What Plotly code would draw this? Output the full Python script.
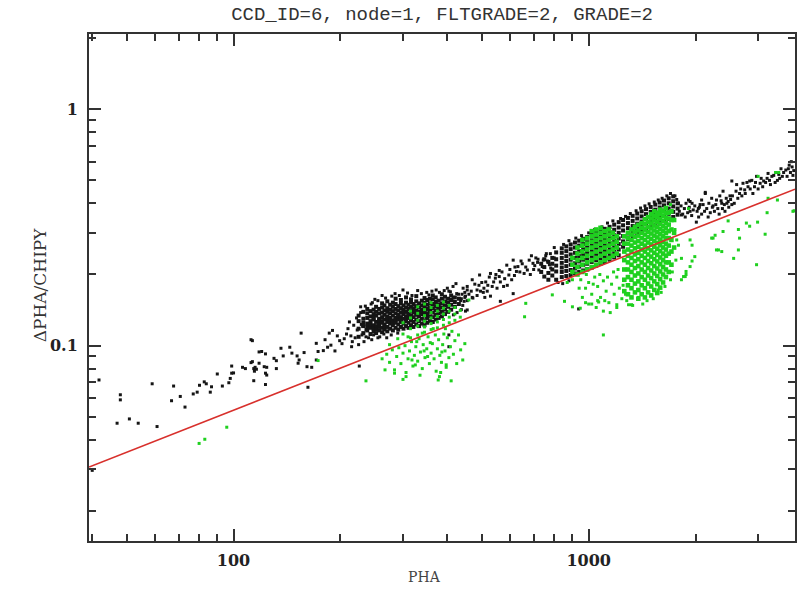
import plotly.graph_objects as go

# ---------------- data (PHA, dPHA/CHIPY) ----------------
black_sparse = [
    (40, 0.0297), (41.8, 0.0716), (47, 0.047), (48, 0.062), (48, 0.059), (50.9, 0.049),
    (53.9, 0.047), (59, 0.069), (60.9, 0.0455), (66.9, 0.0585), (67.8, 0.0675), (70.8, 0.061),
    (73, 0.055), (77, 0.0625), (79, 0.0636), (80.2, 0.068), (82.7, 0.0703), (83.8, 0.069),
    (86, 0.0636), (86.7, 0.067), (90, 0.0759), (93, 0.0675), (97, 0.0697), (97.9, 0.0727),
    (98.8, 0.0765), (98.8, 0.082), (100, 0.0767), (106, 0.081), (108, 0.080), (112, 0.106),
    (112, 0.0848), (114, 0.0711), (114, 0.080), (114.5, 0.078), (118, 0.0941), (118, 0.0843),
    (122, 0.0815), (123, 0.0765), (123, 0.0685), (113, 0.105), (120, 0.0945), (123, 0.0923),
    (113, 0.0856), (115, 0.081), (116, 0.0795), (124, 0.081), (124, 0.0751), (130, 0.0884),
    (132, 0.0864), (136, 0.0975), (138, 0.0905), (132, 0.080), (144, 0.0985), (146, 0.093),
    (151, 0.0905), (153, 0.087), (152, 0.0843), (155, 0.113), (158, 0.0935), (161, 0.0815),
    (162, 0.0667), (166, 0.081), (171, 0.1023), (173, 0.0945), (171, 0.087), (179, 0.0953),
    (181, 0.106), (186, 0.113), (190, 0.116), (188, 0.1005), (199, 0.105), (202, 0.102),
    (205, 0.107), (212, 0.126), (208, 0.112), (216, 0.104), (220, 0.108), (223, 0.1165),
    (226, 0.082), (228, 0.146), (210, 0.118), (214, 0.110), (218, 0.122), (225, 0.101),
    (230, 0.111), (233, 0.104), (236, 0.117), (240, 0.108), (244, 0.150), (250, 0.157),
    (215, 0.099), (196, 0.110), (193, 0.095), (184, 0.0985),
    (404, 0.111), (404, 0.099), (300, 0.172), (350, 0.168), (400, 0.175), (440, 0.165),
    (455, 0.155), (470, 0.160), (450, 0.140), (262, 0.163), (285, 0.166), (330, 0.171),
    (372, 0.172), (415, 0.178), (245, 0.106), (258, 0.109), (270, 0.108), (222, 0.131),
    # ragged edges of the PHA~300 clump
    (228, 0.138), (231, 0.121), (235, 0.147), (246, 0.152), (255, 0.155), (268, 0.159),
    (279, 0.162), (293, 0.163), (309, 0.167), (318, 0.163), (338, 0.166), (355, 0.164),
    (362, 0.170), (380, 0.168), (392, 0.171), (408, 0.169), (425, 0.166), (436, 0.155),
    (442, 0.148), (448, 0.160), (438, 0.142), (426, 0.138), (416, 0.135), (248, 0.111),
    (255, 0.108), (265, 0.112), (278, 0.111), (290, 0.113), (236, 0.109), (229, 0.123),
    # ragged edges of the PHA~1000 clump
    (850, 0.268), (880, 0.278), (920, 0.285), (955, 0.292), (1000, 0.300), (1040, 0.310),
    (1090, 0.318), (1130, 0.330), (1170, 0.337), (1230, 0.345), (1270, 0.352), (1310, 0.362),
    (1360, 0.372), (1400, 0.382), (1440, 0.390), (1480, 0.398), (1530, 0.405), (1570, 0.413),
    (1610, 0.420), (1660, 0.430), (1700, 0.440), (1750, 0.430), (1770, 0.415), (800, 0.260),
    (820, 0.185), (845, 0.183), (880, 0.188), (760, 0.245), (720, 0.232), (700, 0.210),
]

black_middle = [
    (423, 0.183), (443, 0.175), (455, 0.178), (450, 0.162), (467, 0.170), (485, 0.172),
    (493, 0.199), (491, 0.180), (496, 0.170), (507, 0.175), (513, 0.186), (518, 0.170),
    (529, 0.202), (535, 0.178), (546, 0.193), (552, 0.175), (564, 0.186), (576, 0.178),
    (588, 0.219), (596, 0.199), (607, 0.190), (613, 0.230), (626, 0.206), (632, 0.216),
    (645, 0.228), (658, 0.202), (672, 0.209), (690, 0.240), (697, 0.223), (724, 0.209),
    (740, 0.216), (757, 0.240), (765, 0.228), (782, 0.213), (404, 0.170), (415, 0.159),
    (446, 0.154), (455, 0.1416), (472, 0.159), (529, 0.162), (564, 0.154), (613, 0.166),
    (430, 0.165), (438, 0.158), (448, 0.168), (460, 0.165), (478, 0.182), (485, 0.163),
    (500, 0.185), (505, 0.168), (520, 0.180), (525, 0.195), (540, 0.186), (548, 0.200),
    (560, 0.196), (570, 0.205), (580, 0.192), (600, 0.210), (618, 0.198), (620, 0.215),
    (640, 0.205), (650, 0.222), (665, 0.215), (680, 0.230), (685, 0.200), (705, 0.218),
    (710, 0.235), (718, 0.225), (745, 0.230), (775, 0.220), (780, 0.245), (800, 0.235),
    (560, 0.208), (590, 0.180), (470, 0.190), (510, 0.160), (455, 0.172), (937, 0.143),
]

black_right = [
    (1825, 0.357), (1870, 0.350), (1930, 0.370), (1955, 0.400), (1910, 0.413), (2010, 0.333),
    (2060, 0.395), (2080, 0.413), (2130, 0.440), (2170, 0.350), (2220, 0.420), (2240, 0.390),
    (2290, 0.413), (2340, 0.430), (2370, 0.400), (2390, 0.450), (2440, 0.420), (2470, 0.407),
    (2500, 0.430), (2530, 0.497), (2530, 0.395), (2610, 0.480), (2660, 0.440), (2720, 0.486),
    (2750, 0.456), (2810, 0.470), (2840, 0.497), (2900, 0.440), (2970, 0.520), (3040, 0.486),
    (3110, 0.497), (3180, 0.510), (3250, 0.480), (3320, 0.525), (3400, 0.500), (3430, 0.530),
    (3510, 0.520), (3590, 0.553), (3670, 0.580), (3720, 0.600), (3760, 0.525),
    (1800, 0.370), (1820, 0.390), (1840, 0.360), (1860, 0.380), (1880, 0.400), (1900, 0.365),
    (1920, 0.385), (1950, 0.355), (1970, 0.375), (1990, 0.390), (2020, 0.370), (2040, 0.350),
    (2050, 0.385), (2080, 0.360), (2100, 0.395), (2120, 0.370), (2150, 0.380), (2180, 0.400),
    (2200, 0.365), (2230, 0.385), (2260, 0.370), (2280, 0.395), (2310, 0.380), (2330, 0.360),
    (2360, 0.410), (2380, 0.380), (2410, 0.395), (2420, 0.370), (2450, 0.400), (2480, 0.385),
    (2510, 0.415), (2540, 0.430), (2570, 0.400), (2600, 0.450), (2630, 0.420), (2680, 0.460),
    (2700, 0.430), (2760, 0.440), (2790, 0.490), (2850, 0.460), (2880, 0.500), (2930, 0.470),
    (2950, 0.490), (3000, 0.460), (3060, 0.510), (3090, 0.470), (3150, 0.490), (3200, 0.535),
    (3230, 0.500), (3280, 0.520), (3350, 0.490), (3370, 0.540), (3450, 0.510), (3480, 0.560),
    (3540, 0.540), (3620, 0.520), (3650, 0.560), (3700, 0.540), (3740, 0.570), (3780, 0.550),
    (1790, 0.400), (1930, 0.407), (2130, 0.445), (2036, 0.380),
]

black_blob_300 = {
    225: [0.118, 0.127, 0.134, 0.109],
    232: [0.121, 0.130, 0.113, 0.139, 0.125],
    238: [0.116, 0.124, 0.131, 0.137, 0.120, 0.143],
    243: [0.112, 0.119, 0.127, 0.133, 0.140, 0.123],
    248: [0.115, 0.122, 0.129, 0.136, 0.142, 0.118, 0.131],
    252: [0.113, 0.121, 0.126, 0.134, 0.139, 0.146, 0.117],
    257: [0.116, 0.124, 0.130, 0.137, 0.143, 0.120, 0.128],
    262: [0.114, 0.119, 0.125, 0.132, 0.138, 0.145, 0.151, 0.127],
    266: [0.117, 0.123, 0.129, 0.135, 0.141, 0.148, 0.121],
    271: [0.115, 0.120, 0.126, 0.133, 0.139, 0.144, 0.130, 0.154],
    276: [0.118, 0.124, 0.131, 0.137, 0.142, 0.149, 0.127],
    281: [0.116, 0.122, 0.128, 0.134, 0.140, 0.146, 0.152, 0.125],
    286: [0.119, 0.125, 0.131, 0.137, 0.143, 0.150, 0.129, 0.158],
    291: [0.117, 0.123, 0.129, 0.135, 0.141, 0.147, 0.133],
    296: [0.120, 0.126, 0.132, 0.138, 0.144, 0.151, 0.156, 0.129],
    301: [0.118, 0.124, 0.130, 0.136, 0.142, 0.148, 0.139],
    306: [0.121, 0.127, 0.133, 0.139, 0.145, 0.152, 0.160, 0.130],
    311: [0.119, 0.125, 0.131, 0.137, 0.143, 0.149, 0.135],
    316: [0.122, 0.128, 0.134, 0.140, 0.146, 0.153, 0.131, 0.157],
    321: [0.120, 0.126, 0.132, 0.138, 0.144, 0.150, 0.141],
    327: [0.123, 0.129, 0.135, 0.141, 0.147, 0.154, 0.138, 0.162],
    333: [0.121, 0.127, 0.133, 0.139, 0.145, 0.151, 0.136],
    339: [0.124, 0.130, 0.136, 0.142, 0.148, 0.155, 0.140],
    345: [0.122, 0.128, 0.134, 0.140, 0.146, 0.152, 0.159, 0.137],
    351: [0.125, 0.131, 0.137, 0.143, 0.149, 0.156, 0.134],
    357: [0.127, 0.133, 0.139, 0.145, 0.151, 0.158, 0.142],
    364: [0.126, 0.132, 0.138, 0.144, 0.150, 0.157, 0.163],
    371: [0.129, 0.135, 0.141, 0.147, 0.153, 0.160],
    378: [0.131, 0.137, 0.143, 0.149, 0.155, 0.145],
    386: [0.133, 0.139, 0.145, 0.151, 0.158, 0.165],
    394: [0.136, 0.142, 0.148, 0.154, 0.161],
    402: [0.139, 0.146, 0.152, 0.158],
    410: [0.142, 0.149, 0.156, 0.163],
    420: [0.146, 0.153, 0.160],
    431: [0.150, 0.158],
}

black_blob_1000 = {
    735: [0.205, 0.222],
    750: [0.196, 0.215, 0.232],
    770: [0.203, 0.226, 0.190],
    790: [0.210, 0.235, 0.198, 0.222],
    810: [0.190, 0.206, 0.218, 0.232, 0.248],
    840: [0.195, 0.205, 0.214, 0.224, 0.235, 0.247, 0.258],
    865: [0.197, 0.207, 0.217, 0.228, 0.239, 0.251, 0.263],
    890: [0.199, 0.209, 0.220, 0.231, 0.243, 0.256, 0.268],
    915: [0.202, 0.212, 0.223, 0.235, 0.247, 0.260, 0.273],
    940: [0.205, 0.216, 0.227, 0.239, 0.251, 0.265, 0.278],
    965: [0.208, 0.219, 0.231, 0.243, 0.256, 0.269, 0.283],
    990: [0.211, 0.222, 0.234, 0.247, 0.260, 0.274, 0.288],
    1020: [0.214, 0.226, 0.238, 0.251, 0.265, 0.279, 0.294],
    1050: [0.218, 0.230, 0.243, 0.256, 0.270, 0.285, 0.300],
    1080: [0.222, 0.234, 0.247, 0.261, 0.275, 0.290, 0.306],
    1110: [0.226, 0.239, 0.252, 0.266, 0.281, 0.296, 0.312],
    1145: [0.231, 0.244, 0.258, 0.272, 0.287, 0.302, 0.318],
    1180: [0.236, 0.249, 0.263, 0.278, 0.293, 0.309, 0.325],
    1215: [0.241, 0.255, 0.269, 0.284, 0.300, 0.316, 0.333],
    1250: [0.262, 0.276, 0.291, 0.307, 0.323, 0.340],
    1290: [0.283, 0.298, 0.314, 0.330, 0.347],
    1330: [0.290, 0.305, 0.321, 0.337, 0.354],
    1370: [0.297, 0.312, 0.328, 0.345, 0.362],
    1410: [0.304, 0.319, 0.335, 0.352, 0.370],
    1450: [0.310, 0.326, 0.343, 0.360, 0.378],
    1495: [0.317, 0.333, 0.350, 0.368, 0.386],
    1540: [0.323, 0.340, 0.358, 0.376, 0.395],
    1585: [0.330, 0.347, 0.365, 0.384, 0.403],
    1630: [0.336, 0.354, 0.373, 0.392, 0.411],
    1680: [0.343, 0.361, 0.380, 0.400, 0.420],
    1730: [0.350, 0.368, 0.388, 0.408, 0.428],
    1780: [0.358, 0.380, 0.400],
}

green_sparse = [
    (80, 0.0386), (83, 0.0402), (95.7, 0.0452), (173, 0.0865), (236, 0.071), (267, 0.079),
    (306, 0.074), (377, 0.0716), (383, 0.077), (325, 0.0829), (397, 0.083), (284, 0.0765),
    (460, 0.156), (665, 0.151), (660, 0.1325), (790, 0.164), (855, 0.154), (1100, 0.111),
    (980, 0.152), (1020, 0.150), (1067, 0.153), (1320, 0.149),
    (900, 0.146), (947, 0.144), (1200, 0.149), (1295, 0.149), (1381, 0.160), (1500, 0.164),
    (1570, 0.172),
    (1910, 0.380), (1930, 0.280), (1955, 0.266), (1990, 0.238), (1955, 0.228), (1930, 0.216),
    (1880, 0.206), (1850, 0.196), (1790, 0.266), (2240, 0.285), (2270, 0.293), (2290, 0.254),
    (2370, 0.250), (2390, 0.304), (2470, 0.337), (2560, 0.234), (2640, 0.310), (2660, 0.285),
    (2640, 0.254), (2780, 0.330), (2840, 0.320), (2970, 0.220), (2990, 0.333), (3140, 0.296),
    (3180, 0.365), (3400, 0.413), (3430, 0.540), (3760, 0.370), (3790, 0.372), (3000, 0.520),
    (3200, 0.420), (2320, 0.254), (2220, 0.285), (1870, 0.196), (1825, 0.190), (1825, 0.234),
    (1880, 0.200), (3360, 0.540),
    # ragged lower edge of the right clump at PHA~1500
    (1280, 0.155), (1330, 0.148), (1420, 0.150), (1460, 0.155), (1520, 0.158), (1600, 0.168),
    (1640, 0.178), (1700, 0.190), (1720, 0.205), (1760, 0.230), (1770, 0.280), (1750, 0.310),
    (1700, 0.395),
]

green_below_300 = [
    (262, 0.088), (270, 0.092), (275, 0.085), (280, 0.096), (284, 0.079), (288, 0.090),
    (292, 0.098), (296, 0.084), (300, 0.093), (304, 0.100), (306, 0.077), (310, 0.088),
    (313, 0.095), (317, 0.104), (320, 0.082), (323, 0.091), (326, 0.099), (330, 0.086),
    (333, 0.107), (336, 0.094), (340, 0.080), (342, 0.101), (346, 0.089), (350, 0.097),
    (353, 0.109), (356, 0.084), (360, 0.093), (363, 0.102), (367, 0.088), (370, 0.111),
    (372, 0.078), (375, 0.097), (378, 0.106), (381, 0.091), (385, 0.085), (388, 0.101),
    (391, 0.112), (394, 0.095), (397, 0.081), (400, 0.108), (404, 0.089), (408, 0.099),
    (412, 0.115), (416, 0.092), (420, 0.105), (425, 0.084), (430, 0.111), (436, 0.096),
    (442, 0.087), (448, 0.102), (290, 0.107), (275, 0.101), (310, 0.109), (340, 0.113),
    (365, 0.118), (395, 0.118), (300, 0.072), (335, 0.075), (380, 0.074), (410, 0.071),
    (318, 0.087), (352, 0.090), (386, 0.094), (358, 0.103), (344, 0.095), (328, 0.104),
]

green_mix_300 = {
    300: [0.112, 0.125],
    315: [0.108, 0.118, 0.131, 0.140],
    330: [0.111, 0.121, 0.128, 0.137, 0.146],
    345: [0.114, 0.120, 0.127, 0.134, 0.142, 0.150],
    360: [0.117, 0.124, 0.131, 0.138, 0.145, 0.152],
    375: [0.119, 0.126, 0.133, 0.140, 0.148],
    390: [0.122, 0.129, 0.136, 0.144, 0.153],
    405: [0.125, 0.132, 0.140, 0.148],
    420: [0.128, 0.136, 0.145],
    435: [0.132, 0.141],
}

green_blob_1000_left = {
    900: [0.205, 0.220, 0.235],
    930: [0.200, 0.215, 0.230, 0.245, 0.260],
    960: [0.205, 0.220, 0.235, 0.250, 0.265, 0.280],
    990: [0.210, 0.225, 0.240, 0.255, 0.270, 0.285],
    1020: [0.215, 0.230, 0.245, 0.260, 0.275, 0.290, 0.305],
    1050: [0.220, 0.235, 0.250, 0.265, 0.280, 0.295, 0.310],
    1080: [0.225, 0.240, 0.255, 0.270, 0.285, 0.300, 0.315],
    1110: [0.230, 0.245, 0.260, 0.275, 0.290, 0.305],
    1140: [0.235, 0.250, 0.265, 0.280, 0.295, 0.310],
    1170: [0.240, 0.255, 0.270, 0.285, 0.300],
    1200: [0.245, 0.260, 0.275, 0.290],
}

green_below_1000 = [
    (950, 0.190), (980, 0.175), (1000, 0.185), (1020, 0.165), (1040, 0.195), (1060, 0.178),
    (1080, 0.160), (1100, 0.188), (1120, 0.170), (1140, 0.152), (1160, 0.182), (1180, 0.165),
    (1200, 0.195), (1220, 0.175), (1240, 0.158), (960, 0.160), (1000, 0.150), (1050, 0.145),
    (1100, 0.140), (1150, 0.138), (1200, 0.145), (1250, 0.180), (1270, 0.165), (985, 0.200),
    (1030, 0.182), (1075, 0.200), (1130, 0.195), (1175, 0.205), (1210, 0.210), (1060, 0.155),
    (1110, 0.155), (940, 0.175), (900, 0.190), (870, 0.185),
]

green_blob_1000_right = {
    1260: [0.170, 0.190, 0.210, 0.230, 0.250, 0.270, 0.290],
    1290: [0.165, 0.180, 0.195, 0.210, 0.225, 0.240, 0.255, 0.270, 0.285, 0.300],
    1320: [0.160, 0.175, 0.190, 0.205, 0.220, 0.235, 0.250, 0.265, 0.280, 0.295, 0.310],
    1350: [0.168, 0.183, 0.198, 0.213, 0.228, 0.243, 0.258, 0.273, 0.288, 0.303, 0.318],
    1380: [0.158, 0.172, 0.187, 0.202, 0.217, 0.232, 0.247, 0.262, 0.277, 0.292, 0.307, 0.324],
    1410: [0.165, 0.180, 0.195, 0.210, 0.225, 0.240, 0.255, 0.270, 0.285, 0.300, 0.315, 0.330],
    1440: [0.160, 0.175, 0.190, 0.205, 0.220, 0.235, 0.250, 0.265, 0.280, 0.295, 0.310, 0.326, 0.342],
    1470: [0.168, 0.183, 0.198, 0.213, 0.228, 0.243, 0.258, 0.273, 0.288, 0.303, 0.318, 0.334, 0.350],
    1500: [0.163, 0.178, 0.193, 0.208, 0.223, 0.238, 0.253, 0.268, 0.283, 0.298, 0.313, 0.329, 0.345, 0.360],
    1530: [0.172, 0.187, 0.202, 0.217, 0.232, 0.247, 0.262, 0.277, 0.292, 0.307, 0.322, 0.338, 0.354, 0.370],
    1560: [0.167, 0.182, 0.197, 0.212, 0.227, 0.242, 0.257, 0.272, 0.287, 0.302, 0.317, 0.333, 0.349, 0.365],
    1590: [0.176, 0.191, 0.206, 0.221, 0.236, 0.251, 0.266, 0.281, 0.296, 0.311, 0.327, 0.343, 0.360, 0.376],
    1620: [0.185, 0.200, 0.215, 0.230, 0.245, 0.260, 0.275, 0.290, 0.305, 0.320, 0.337, 0.354, 0.370],
    1650: [0.195, 0.210, 0.225, 0.240, 0.255, 0.270, 0.285, 0.300, 0.315, 0.331, 0.348, 0.365, 0.382],
    1680: [0.205, 0.225, 0.245, 0.265, 0.285, 0.305, 0.325, 0.345, 0.365],
    1710: [0.220, 0.250, 0.280, 0.310, 0.340, 0.370],
    1740: [0.260, 0.300, 0.340],
}

# fitted line end points
line_pha = [39.2, 3811]
line_val = [0.0307, 0.459]

x_major = [100, 1000]
x_minor = [40, 50, 60, 70, 80, 90, 200, 300, 400, 500, 600, 700, 800, 900, 2000, 3000]
y_major = [0.1, 1]
y_minor = [0.02, 0.03, 0.04, 0.05, 0.06, 0.07, 0.08, 0.09,
           0.2, 0.3, 0.4, 0.5, 0.6, 0.7, 0.8, 0.9, 2]


def from_pairs(*groups):
    xs, ys = [], []
    for g in groups:
        for p, v in g:
            xs.append(p)
            ys.append(v)
    return xs, ys


def from_columns(*groups):
    xs, ys = [], []
    for g in groups:
        for p, vals in g.items():
            for v in vals:
                xs.append(p)
                ys.append(v)
    return xs, ys


bx1, by1 = from_pairs(black_sparse, black_middle, black_right)
bx2, by2 = from_columns(black_blob_300, black_blob_1000)
gx1, gy1 = from_pairs(green_sparse, green_below_300, green_below_1000)
gxm, gym = from_columns(green_mix_300)
gx2, gy2 = from_columns(green_blob_1000_left, green_blob_1000_right)

BLACK = "#151515"
GREEN = "#1fd01f"

fig = go.Figure()
fig.add_trace(go.Scatter(x=bx2, y=by2, mode="markers",
                         marker=dict(size=4, color=BLACK, symbol="square"),
                         hoverinfo="skip"))
fig.add_trace(go.Scatter(x=bx1, y=by1, mode="markers",
                         marker=dict(size=3, color=BLACK, symbol="square"),
                         hoverinfo="skip"))
fig.add_trace(go.Scatter(x=gx2, y=gy2, mode="markers",
                         marker=dict(size=4.6, color=GREEN, symbol="square"),
                         hoverinfo="skip"))
fig.add_trace(go.Scatter(x=gx1 + gxm, y=gy1 + gym, mode="markers",
                         marker=dict(size=3, color=GREEN, symbol="square"),
                         hoverinfo="skip"))
fig.add_trace(go.Scatter(x=line_pha, y=line_val, mode="lines",
                         line=dict(color="#d8302c", width=1.6), hoverinfo="skip"))

axis_common = dict(
    type="log", ticks="inside", tickwidth=1.5, tickcolor="#333",
    showline=True, linecolor="#333", linewidth=2, mirror="ticks",
    showgrid=False, zeroline=False,
    tickfont=dict(family="DejaVu Serif", size=16, color="#222", weight="bold"),
)

fig.update_xaxes(range=[1.593, 3.581], tickvals=x_major, ticktext=["100", "1000"],
                 ticklen=12, ticklabelstandoff=4,
                 minor=dict(ticks="inside", ticklen=7, tickvals=x_minor,
                            tickcolor="#333", tickwidth=1.5, showgrid=False),
                 **axis_common)
fig.update_yaxes(range=[-1.826, 0.318], tickvals=y_major, ticktext=["0.1", "1"],
                 ticklen=12, ticklabelstandoff=6,
                 minor=dict(ticks="inside", ticklen=7, tickvals=y_minor,
                            tickcolor="#333", tickwidth=1.5, showgrid=False),
                 **axis_common)

fig.update_layout(
    width=798, height=590,
    margin=dict(l=89, r=1, t=34, b=49),
    plot_bgcolor="white", paper_bgcolor="white",
    showlegend=False,
    title=dict(text="CCD_ID=6, node=1, FLTGRADE=2, GRADE=2",
               font=dict(family="Liberation Mono", size=19, color="#333"),
               x=0.554, xanchor="center", y=0.978, yanchor="middle"),
    annotations=[
        dict(text="PHA", xref="paper", yref="paper", x=0.4746, y=-0.071,
             xanchor="center", yanchor="middle", showarrow=False,
             font=dict(family="DejaVu Serif", size=14, color="#444")),
        dict(text="ΔPHA/CHIPY", xref="paper", yref="paper", x=-0.069, y=0.505,
             xanchor="center", yanchor="middle", showarrow=False, textangle=-90,
             font=dict(family="DejaVu Serif", size=17, color="#333")),
    ],
)

fig.write_html("out.html")
